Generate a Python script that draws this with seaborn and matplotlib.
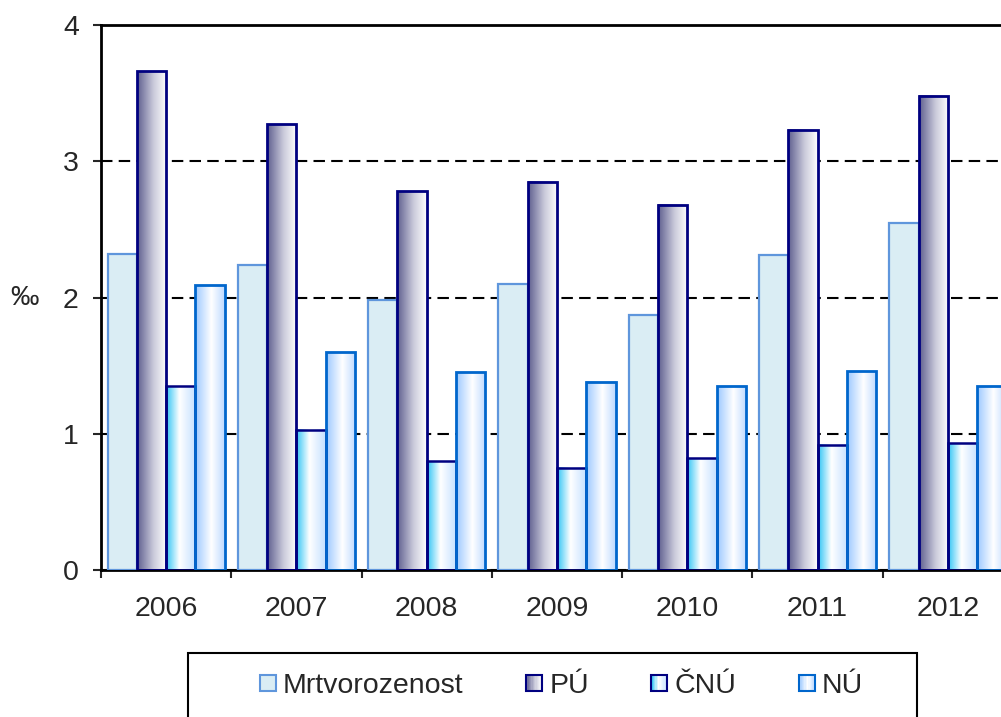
import numpy as np
import pandas as pd
import matplotlib
matplotlib.use("Agg")
import matplotlib.pyplot as plt
import seaborn as sns
from matplotlib.colors import LinearSegmentedColormap
from matplotlib.patches import Rectangle, Patch
from matplotlib.legend_handler import HandlerBase

years = ["2006", "2007", "2008", "2009", "2010", "2011", "2012"]
series = ["Mrtvorozenost", "PÚ", "ČNÚ", "NÚ"]
mrtvorozenost = [2.32, 2.24, 1.98, 2.10, 1.87, 2.31, 2.55]
pu = [3.66, 3.27, 2.78, 2.85, 2.68, 3.23, 3.48]
cnu = [1.35, 1.03, 0.80, 0.75, 0.82, 0.92, 0.93]
nu = [2.09, 1.60, 1.45, 1.38, 1.35, 1.46, 1.35]

df = pd.DataFrame({
    "rok": years * 4,
    "ukazatel": np.repeat(series, len(years)),
    "hodnota": mrtvorozenost + pu + cnu + nu,
})

# fill gradients (left -> right) and outlines, Excel style
cmaps = {
    "Mrtvorozenost": LinearSegmentedColormap.from_list("m", ["#DAEDF4", "#DAEDF4"]),
    "PÚ": LinearSegmentedColormap.from_list("p", [(0, "#5E5E8E"), (0.55, "#C9C9DA"), (1, "#FFFFFF")]),
    "ČNÚ": LinearSegmentedColormap.from_list("c", [(0, "#2EC4F5"), (0.45, "#FFFFFF"), (1, "#C4E0FF")]),
    "NÚ": LinearSegmentedColormap.from_list("n", [(0, "#9CC8FF"), (0.55, "#FFFFFF"), (1, "#BCD9FF")]),
}
edges = {"Mrtvorozenost": "#5F96DC", "PÚ": "#000080", "ČNÚ": "#000080", "NÚ": "#0066CC"}
lws = {"Mrtvorozenost": 1.6, "PÚ": 2.0, "ČNÚ": 1.8, "NÚ": 2.0}

sns.set_style("white")
plt.rcParams["font.family"] = ["Liberation Sans", "DejaVu Sans"]
fs = 20.5

fig = plt.figure(figsize=(10.01, 7.17), dpi=100)
ax = fig.add_axes([101 / 1001, 1 - 570 / 717, 912 / 1001, 545 / 717])

sns.barplot(data=df, x="rok", y="hodnota", hue="ukazatel", hue_order=series,
            palette=[cmaps[s](0.5) for s in series], width=0.9, saturation=1,
            legend=False, ax=ax)

grad = np.linspace(0, 1, 256)[np.newaxis, :]
for name, cont in zip(series, ax.containers):
    for bar in cont:
        bar.set_edgecolor(edges[name])
        bar.set_linewidth(lws[name])
        bar.set_zorder(3)
        if name != "Mrtvorozenost":
            bar.set_facecolor("none")
            x0 = bar.get_x()
            ax.imshow(grad, cmap=cmaps[name], aspect="auto", interpolation="bilinear",
                      extent=[x0, x0 + bar.get_width(), 0, bar.get_height()], zorder=2.5)

ax.set_xlim(-0.5, 6.5)
ax.set_ylim(0, 4)
ax.set_yticks([0, 1, 2, 3, 4])
ax.set_xticks(range(len(years)))
ax.set_xticklabels(years)
ax.set_xticks(np.arange(-0.5, 7, 1), minor=True)
ax.set_xlabel("")
ax.set_ylabel("")

ax.set_axisbelow(True)
ax.yaxis.grid(True, color="black", linestyle=(0, (5.5, 3)), linewidth=1.5, zorder=0)
for side in ["left", "bottom", "top"]:
    ax.spines[side].set_color("black")
    ax.spines[side].set_linewidth(2)
ax.spines["right"].set_visible(False)

ax.tick_params(axis="y", direction="out", length=6, width=1.5, labelsize=fs, pad=10, left=True)
ax.tick_params(axis="x", which="major", length=0, labelsize=fs, pad=19)
ax.tick_params(axis="x", which="minor", direction="out", length=6, width=1.5, bottom=True)

fig.text(24 / 1001, 1 - 298 / 717, "‰", fontsize=fs, ha="center", va="center")


class GradientHandler(HandlerBase):
    def __init__(self, cmap, ec, lw):
        super().__init__()
        self.cmap, self.ec, self.lw = cmap, ec, lw

    def create_artists(self, legend, orig_handle, xdescent, ydescent, width, height, fontsize, trans):
        s = min(width, height)
        x0 = -xdescent + (width - s) / 2
        y0 = -ydescent + (height - s) / 2
        n = 12
        arts = [Rectangle((x0 + k * s / n, y0), s / n, s, facecolor=self.cmap((k + 0.5) / n),
                          edgecolor="none", transform=trans) for k in range(n)]
        arts.append(Rectangle((x0, y0), s, s, facecolor="none", edgecolor=self.ec,
                              lw=self.lw, transform=trans))
        return arts


handles = [Patch(label=s) for s in series]
hmap = {h: GradientHandler(cmaps[s], edges[s], 1.5) for h, s in zip(handles, series)}
fig.legend(handles, series, handler_map=hmap, loc="center", bbox_to_anchor=(0.561, 1 - 686 / 717),
           ncol=4, frameon=False, fontsize=fs, handlelength=0.56, handleheight=0.56,
           handletextpad=0.25, columnspacing=2.2)

fig.add_artist(Rectangle((188 / 1001, -0.05), 729 / 1001, 0.05 + 64 / 717,
                         transform=fig.transFigure, fill=False, lw=1.5, ec="black"))

fig.savefig("out.png", dpi=100)
